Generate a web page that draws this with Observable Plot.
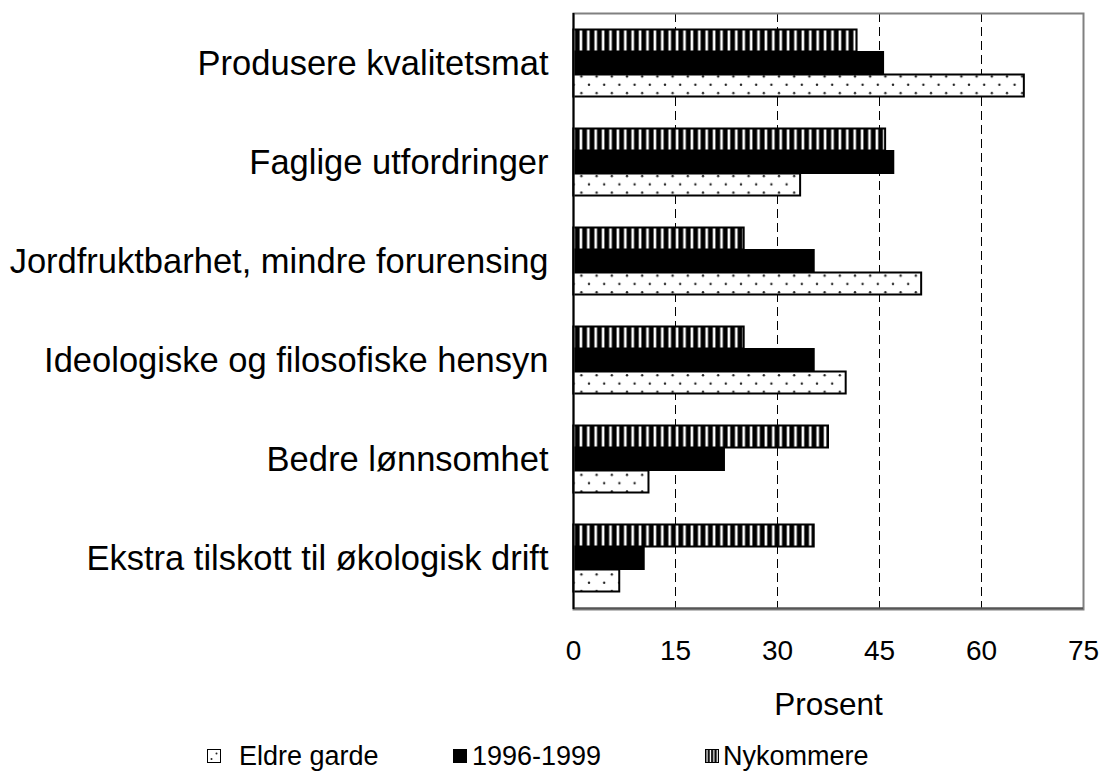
<!DOCTYPE html>
<html>
<head>
<meta charset="utf-8">
<script src="https://cdn.jsdelivr.net/npm/d3@7"></script>
<script src="https://cdn.jsdelivr.net/npm/@observablehq/plot@0.6"></script>
<style>
  html, body { margin: 0; padding: 0; background: #fff; }
  body { width: 1100px; height: 774px; overflow: hidden; font-family: "Liberation Sans", Arial, sans-serif; }
  #legend { position: relative; width: 1100px; height: 44px; font-size: 27px; color: #000; }
  .item { position: absolute; top: 8px; display: flex; align-items: center; height: 36px; white-space: nowrap; }
  .item svg { display: block; }
</style>
</head>
<body>
<div id="chart"></div>
<div id="legend"></div>
<script>
// ---- data ----
const categories = [
  "Produsere kvalitetsmat",
  "Faglige utfordringer",
  "Jordfruktbarhet, mindre forurensing",
  "Ideologiske og filosofiske hensyn",
  "Bedre lønnsomhet",
  "Ekstra tilskott til økologisk drift"
];
const seriesNames = ["Eldre garde", "1996-1999", "Nykommere"];
const eldreGarde = [66.3, 33.4, 51.2, 40.1, 11.1, 6.8];
const aar1996_1999 = [45.6, 47.1, 35.4, 35.4, 22.2, 10.4];
const nykommere = [41.7, 45.9, 25.1, 25.1, 37.5, 35.4];
const xTicks = [0, 15, 30, 45, 60, 75];

// ---- layout ----
const W = 1100, H = 730;
const mTop = 13, mBottom = H - 609, mLeft = 573, mRight = 1100 - 1083;
const step = (H - mTop - mBottom) / categories.length;
const barH = 22.5;
const pad = 1 - barH / step;

const toRows = vals => categories.map((c, i) => ({category: c, value: vals[i]}));
const rowsEldre = toRows(eldreGarde);
const rows9699 = toRows(aar1996_1999);
const rowsNyk = toRows(nykommere);

const fills = {
  "Eldre garde": "url(#pDots)",
  "1996-1999": "#000",
  "Nykommere": "url(#pStripes)"
};

const plot = Plot.plot({
  width: W,
  height: H,
  marginTop: mTop,
  marginBottom: mBottom,
  marginLeft: mLeft,
  marginRight: mRight,
  style: {fontFamily: "'Liberation Sans', Arial, sans-serif", background: "#fff", color: "#000"},
  x: {domain: [0, 75], ticks: xTicks, label: "Prosent"},
  y: {domain: categories, paddingInner: pad, paddingOuter: pad / 2, label: null},
  marks: [
    Plot.ruleX(xTicks.filter(t => t > 0 && t < 75), {stroke: "#000", strokeWidth: 1, strokeDasharray: "9,5"}),
    Plot.barX(rowsNyk, {x: "value", y: "category", fill: fills["Nykommere"], stroke: "#000", strokeWidth: 2, dy: -barH}),
    Plot.barX(rows9699, {x: "value", y: "category", fill: fills["1996-1999"], stroke: "#000", strokeWidth: 2}),
    Plot.barX(rowsEldre, {x: "value", y: "category", fill: fills["Eldre garde"], stroke: "#000", strokeWidth: 2, dy: barH}),
    Plot.frame({stroke: "#808080", strokeWidth: 2}),
    Plot.ruleY([categories[categories.length - 1]], {stroke: "#555", strokeWidth: 2, dy: step / 2}),
    Plot.ruleX([0], {stroke: "#000", strokeWidth: 2}),
    Plot.axisY({tickSize: 0, tickPadding: 25, fontSize: 34.5, label: null}),
    Plot.axisX({ticks: xTicks, tickSize: 0, tickPadding: 31, fontSize: 28, label: null}),
    Plot.axisX({ticks: [], tickSize: 0, fontSize: 31.5, label: "Prosent", labelAnchor: "center", labelArrow: "none", labelOffset: 105})
  ]
});

// pattern definitions
const defs = d3.select(plot).insert("defs", ":first-child");
const ps = defs.append("pattern").attr("id", "pStripes").attr("patternUnits", "userSpaceOnUse")
  .attr("width", 7.4).attr("height", 10);
ps.append("rect").attr("width", 7.4).attr("height", 10).attr("fill", "#000");
ps.append("rect").attr("x", 2.4).attr("width", 2.6).attr("height", 10).attr("fill", "#fff");
const pd = defs.append("pattern").attr("id", "pDots").attr("patternUnits", "userSpaceOnUse")
  .attr("width", 15.2).attr("height", 16.6);
pd.append("rect").attr("width", 15.2).attr("height", 16.6).attr("fill", "#fff");
pd.append("circle").attr("cx", 3.8).attr("cy", 4.2).attr("r", 1.2).attr("fill", "#222");
pd.append("circle").attr("cx", 11.4).attr("cy", 12.5).attr("r", 1.2).attr("fill", "#222");
// small legend patterns
const lps = defs.append("pattern").attr("id", "lStripes").attr("patternUnits", "userSpaceOnUse")
  .attr("width", 3.4).attr("height", 14);
lps.append("rect").attr("width", 3.4).attr("height", 14).attr("fill", "#000");
lps.append("rect").attr("x", 1.4).attr("width", 1.3).attr("height", 14).attr("fill", "#fff");

document.getElementById("chart").appendChild(plot);

// legend
const legendPos = {"Eldre garde": [207, 18], "1996-1999": [453, 5], "Nykommere": [705, 4]};
const legend = d3.select("#legend");
for (const name of seriesNames) {
  const [left, gap] = legendPos[name];
  const it = legend.append("div").attr("class", "item").style("left", left + "px");
  const sw = it.append("svg").attr("width", 14).attr("height", 14).style("margin-right", gap + "px");
  if (name === "Eldre garde") {
    sw.append("rect").attr("x", 0.5).attr("y", 0.5).attr("width", 13).attr("height", 13).attr("fill", "#fff").attr("stroke", "#000").attr("stroke-width", 1);
    sw.append("circle").attr("cx", 9.5).attr("cy", 4.5).attr("r", 1).attr("fill", "#222");
    sw.append("circle").attr("cx", 4.5).attr("cy", 10).attr("r", 1).attr("fill", "#222");
  } else if (name === "1996-1999") {
    sw.append("rect").attr("x", 0.5).attr("y", 0.5).attr("width", 13).attr("height", 13).attr("fill", "#000").attr("stroke", "#000");
  } else {
    sw.append("rect").attr("x", 0.5).attr("y", 0.5).attr("width", 13).attr("height", 13).attr("fill", "url(#lStripes)").attr("stroke", "#000").attr("stroke-width", 1);
  }
  it.append("span").text(name);
}
</script>
</body>
</html>
